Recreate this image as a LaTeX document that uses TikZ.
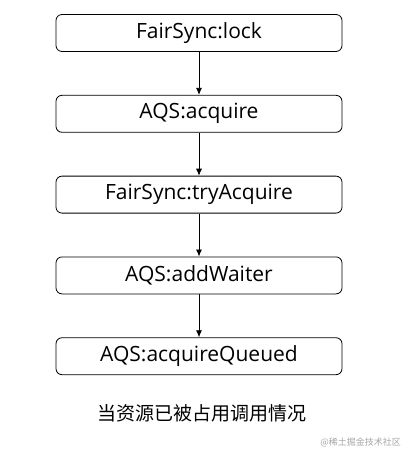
\documentclass[tikz,border=0pt]{standalone}
\usepackage{fontspec}
\setmainfont{Open Sans}
\newfontfamily\cjk{Noto Sans CJK SC}
\usetikzlibrary{arrows.meta, positioning}

\begin{document}
\begin{tikzpicture}[
    x=1pt, y=1pt,
    box/.style={rectangle, draw=black, line width=0.8pt, rounded corners=6pt, minimum width=286pt, minimum height=37pt, inner sep=0pt, font=\fontsize{21}{25}\selectfont},
    arrow/.style={-{Latex[length=7pt, width=6pt]}, line width=0.8pt}
]
    \useasboundingbox (0,0) rectangle (412,-459);
    \node[box] (lock) at (199,-33) {FairSync:lock};
    \node[box, below=43pt of lock] (acquire) {AQS:acquire};
    \node[box, below=43pt of acquire] (try) {FairSync:tryAcquire};
    \node[box, below=43pt of try] (waiter) {AQS:addWaiter};
    \node[box, below=43pt of waiter] (queued) {AQS:acquireQueued};

    \draw[arrow] (lock) -- (acquire);
    \draw[arrow] (acquire) -- (try);
    \draw[arrow] (try) -- (waiter);
    \draw[arrow] (waiter) -- (queued);

    \node[font=\cjk\fontsize{19}{22}\selectfont] (caption) at (202,-413) {当资源已被占用调用情况};
    \node[font=\cjk\fontsize{9}{11}\selectfont, text=black!35, anchor=east, inner sep=0pt] (mark) at (401,-442) {@稀土掘金技术社区};
\end{tikzpicture}
\end{document}
